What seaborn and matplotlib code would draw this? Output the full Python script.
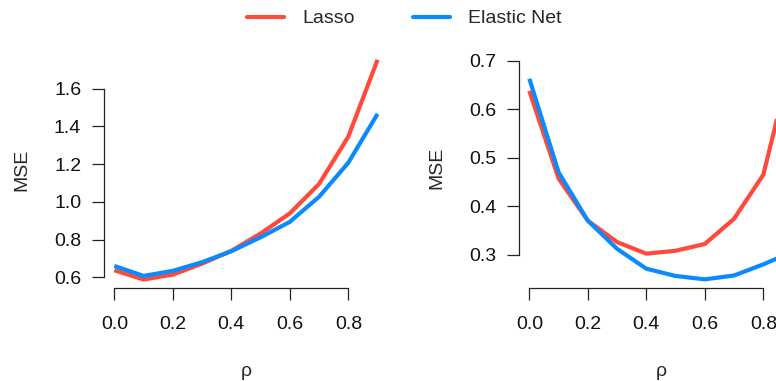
import numpy as np
import pandas as pd
import matplotlib
matplotlib.use("Agg")
import matplotlib.pyplot as plt
import seaborn as sns
from matplotlib.lines import Line2D

# Correlation values on the x axis
rho = [0.0, 0.1, 0.2, 0.3, 0.4, 0.5, 0.6, 0.7, 0.8, 0.9]

# Panel 1: test MSE per method
lasso_mse_1 = [0.637, 0.588, 0.614, 0.672, 0.740, 0.832, 0.939, 1.095, 1.346, 1.754]
enet_mse_1 = [0.660, 0.607, 0.634, 0.680, 0.738, 0.812, 0.894, 1.027, 1.208, 1.467]

# Panel 2: test MSE per method
lasso_mse_2 = [0.638, 0.457, 0.370, 0.326, 0.302, 0.308, 0.322, 0.374, 0.465, 0.710]
enet_mse_2 = [0.663, 0.470, 0.370, 0.312, 0.271, 0.256, 0.249, 0.257, 0.280, 0.306]

methods = ["Lasso", "Elastic Net"]
colors = {"Lasso": "#FF4A3A", "Elastic Net": "#0A8AFF"}

x_ticks = [0.0, 0.2, 0.4, 0.6, 0.8]
y_ticks_1 = [0.6, 0.8, 1.0, 1.2, 1.4, 1.6]
y_ticks_2 = [0.3, 0.4, 0.5, 0.6, 0.7]


def long_frame(lasso, enet):
    return pd.DataFrame({
        "rho": rho * 2,
        "MSE": list(lasso) + list(enet),
        "method": ["Lasso"] * len(rho) + ["Elastic Net"] * len(rho),
    })


sns.set_style("white")
plt.rcParams["font.family"] = ["Liberation Sans", "DejaVu Sans"]
FS = 14.0
plt.rcParams["font.size"] = FS

W, H = 776, 381
fig = plt.figure(figsize=(W / 100, H / 100), dpi=100)


def px_axes(left, right, top, bottom):
    return fig.add_axes([left / W, 1 - bottom / H, (right - left) / W, (bottom - top) / H])


ax1 = px_axes(103.8, 388.1, 51, 288.3)
ax2 = px_axes(518.8, 803.1, 47, 288.3)

panels = [
    (ax1, long_frame(lasso_mse_1, enet_mse_1), y_ticks_1),
    (ax2, long_frame(lasso_mse_2, enet_mse_2), y_ticks_2),
]

for ax, df, yt in panels:
    sns.lineplot(data=df, x="rho", y="MSE", hue="method", hue_order=methods,
                 palette=colors, linewidth=3.0, ax=ax, legend=False,
                 solid_capstyle="butt")
    ax.margins(x=0.04, y=0.04)
    ax.set_xticks(x_ticks)
    ax.set_xticklabels([f"{v:.1f}" for v in x_ticks])
    ax.set_yticks(yt)
    ax.set_yticklabels([f"{v:.1f}" for v in yt])
    for s in ("top", "right"):
        ax.spines[s].set_visible(False)
    for s in ("left", "bottom"):
        ax.spines[s].set_color("#222222")
        ax.spines[s].set_linewidth(0.9)
    ax.spines["left"].set_bounds(yt[0], yt[-1])
    ax.spines["bottom"].set_bounds(x_ticks[0], x_ticks[-1])
    ax.tick_params(axis="both", direction="out", length=8.3, width=0.9,
                   bottom=True, left=True,
                   color="#222222", labelsize=FS, labelcolor="#111111")
    ax.tick_params(axis="y", pad=8)
    ax.tick_params(axis="x", pad=12)
    ax.set_xlabel("ρ", fontsize=FS, labelpad=21)
    ax.set_ylabel("MSE", fontsize=FS, labelpad=17)
    ax.patch.set_alpha(0)

handles = [Line2D([], [], color=colors[m], linewidth=3.0) for m in methods]
fig.legend(handles, methods, loc="upper center", bbox_to_anchor=(0.521, 1.02),
           ncol=2, frameon=False, fontsize=FS, handlelength=1.9,
           handletextpad=0.95, columnspacing=3.0)

fig.savefig("out.png", dpi=100)
